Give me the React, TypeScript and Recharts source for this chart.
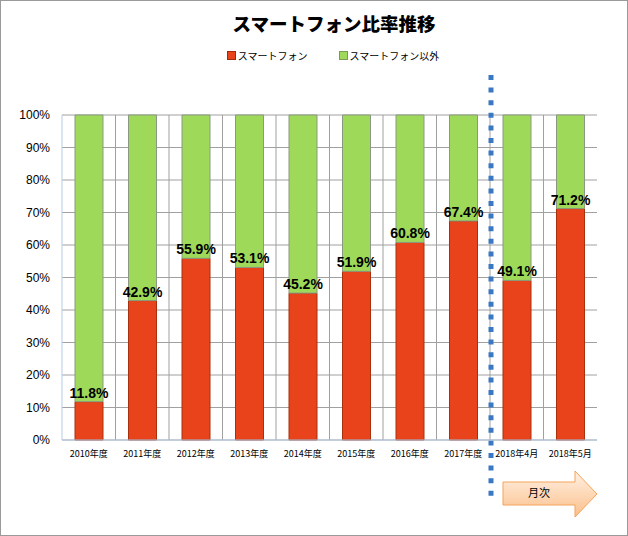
import React from 'react';
import { BarChart, Bar, XAxis, YAxis, CartesianGrid, LabelList, ReferenceLine } from 'recharts';

const categories = [
    '2010年度', '2011年度', '2012年度', '2013年度', '2014年度',
    '2015年度', '2016年度', '2017年度', '2018年4月', '2018年5月',
];
const smartphone = [11.8, 42.9, 55.9, 53.1, 45.2, 51.9, 60.8, 67.4, 49.1, 71.2];
const others = [88.2, 57.1, 44.1, 46.9, 54.8, 48.1, 39.2, 32.6, 50.9, 28.8];
const yTicks = [0, 10, 20, 30, 40, 50, 60, 70, 80, 90, 100];

const data = categories.map((name, i) => ({ name, smart: smartphone[i], other: others[i] }));

const RED = '#e8431a';
const GREEN = '#9ed95a';
const CJK = '"Noto Sans CJK JP", sans-serif';

const legendItems = [
    { label: 'スマートフォン', color: RED, edge: '#a02a0a' },
    { label: 'スマートフォン以外', color: GREEN, edge: '#7a9a5a' },
];

// dotted divider + "月次" arrow, hung off the reference line coordinates
const MonthlyMarker = (p: any) => {
    const x = p.x1;
    const bottom = Math.max(p.y1, p.y2);
    const top = Math.min(p.y1, p.y2);
    const ax = x + 13;
    const headX = x + 85;
    const tipX = x + 107;
    const arrow = [
        [ax, bottom + 42], [headX, bottom + 42], [headX, bottom + 31], [tipX, bottom + 54],
        [headX, bottom + 77], [headX, bottom + 65], [ax, bottom + 65],
    ].map((q) => q.join(',')).join(' ');
    return (
        <g>
            <defs>
                <linearGradient id="arrowFill" x1="0" y1="0" x2="0" y2="1">
                    <stop offset="0%" stopColor="#fff1e4" />
                    <stop offset="100%" stopColor="#fbbf8a" />
                </linearGradient>
            </defs>
            <line x1={x + 1} x2={x + 1} y1={top - 40} y2={bottom + 57} stroke="#3b78c4" strokeWidth={5} strokeDasharray="5 7.6" />
            <polygon points={arrow} fill="url(#arrowFill)" stroke="#f5a35a" strokeWidth={1} />
            <text x={(ax + headX) / 2} y={bottom + 57} textAnchor="middle" fontFamily={CJK} fontSize={11} fill="#000">月次</text>
        </g>
    );
};

const App: React.FC = () => {
    return (
        <div style={{ position: 'absolute', left: 0, top: 0, width: 628, height: 536, boxSizing: 'border-box', border: '1px solid #9a9a9a', background: '#fff' }}>
            <div style={{ position: 'absolute', left: 40, right: 0, top: 9, textAlign: 'center', fontFamily: CJK, fontWeight: 900, fontSize: 18.5, color: '#000' }}>
                スマートフォン比率推移
            </div>
            <div style={{ position: 'absolute', left: 38, right: 0, top: 47, display: 'flex', justifyContent: 'center', gap: 31, fontFamily: CJK, fontSize: 10, color: '#000' }}>
                {legendItems.map((it) => (
                    <div key={it.label} style={{ display: 'flex', alignItems: 'center' }}>
                        <span style={{ width: 7, height: 7, background: it.color, border: `1px solid ${it.edge}`, marginRight: 2 }} />
                        <span>{it.label}</span>
                    </div>
                ))}
            </div>
            <div style={{ position: 'absolute', left: -1, top: -1 }}>
                <BarChart width={628} height={536} data={data} margin={{ top: 115, right: 31, bottom: 66, left: 12 }} barSize={28}>
                    <CartesianGrid
                        stroke="#a0a0a0"
                        verticalCoordinatesGenerator={({ offset }: any) =>
                            categories.slice(1).map((_, i) => offset.left + ((i + 1) * offset.width) / categories.length)
                        }
                    />
                    <XAxis
                        dataKey="name"
                        height={30}
                        axisLine={{ stroke: '#b7cbe4' }}
                        tickLine={false}
                        tickMargin={5}
                        interval={0}
                        tick={{ fontSize: 9, fill: '#000', fontFamily: CJK }}
                    />
                    <YAxis
                        width={50}
                        domain={[0, 100]}
                        ticks={yTicks}
                        tickFormatter={(v: number) => `${v}%`}
                        axisLine={{ stroke: '#b7cbe4' }}
                        tickLine={false}
                        tickSize={0}
                        tickMargin={12}
                        tick={{ fontSize: 12, fill: '#000', fontFamily: '"Liberation Sans", Arial, sans-serif' }}
                    />
                    <YAxis yAxisId="right" orientation="right" width={0} tick={false} axisLine={{ stroke: '#b7cbe4' }} tickLine={false} />
                    <Bar dataKey="smart" stackId="a" fill={RED} stroke="#a8300e" strokeWidth={1} isAnimationActive={false}>
                        <LabelList
                            dataKey="smart"
                            position="top"
                            offset={4}
                            formatter={(v: any) => `${Number(v).toFixed(1)}%`}
                            style={{ fontFamily: '"Liberation Sans", Arial, sans-serif', fontWeight: 700, fontSize: 14, fill: '#000' }}
                        />
                    </Bar>
                    <Bar dataKey="other" stackId="a" fill={GREEN} stroke="#8a9a80" strokeWidth={1} isAnimationActive={false} />
                    <ReferenceLine x="2017年度" position="end" shape={MonthlyMarker} />
                </BarChart>
            </div>
        </div>
    );
};

export default App;
